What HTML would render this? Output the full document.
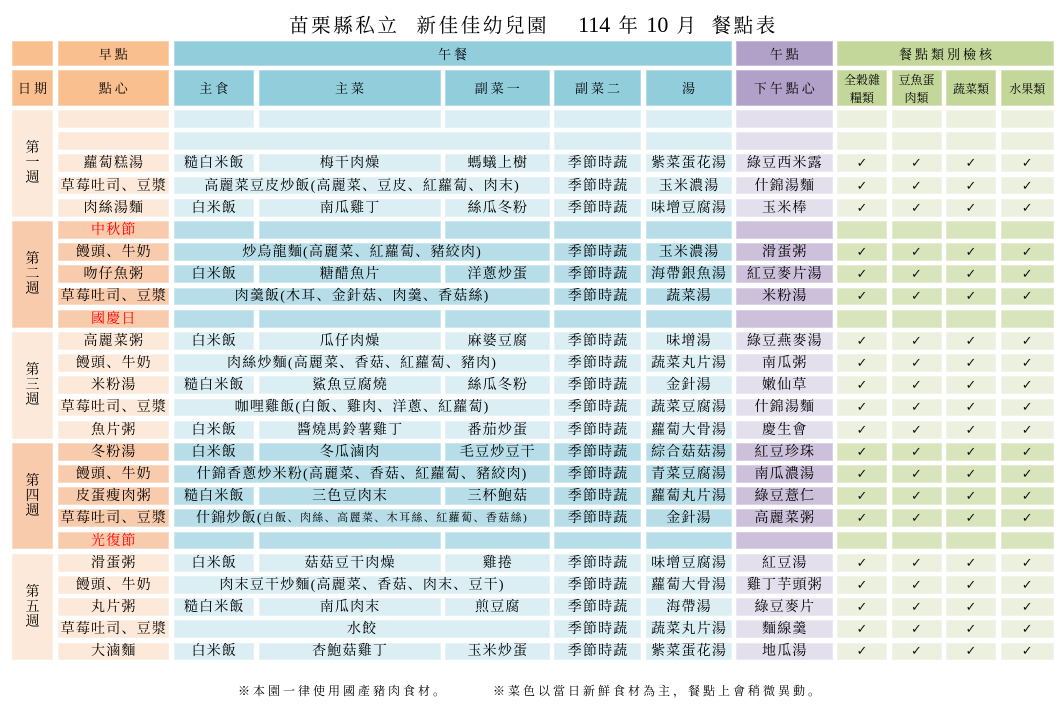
<!DOCTYPE html>
<html><head><meta charset="utf-8">
<style>
html,body{margin:0;padding:0;background:#fff;}
body{width:1063px;height:704px;position:relative;overflow:hidden;font-family:"Liberation Serif","Noto Serif CJK SC","Noto Sans CJK TC",serif;color:#000;}
.title{position:absolute;left:289px;top:14px;line-height:22px;font-size:19.5px;letter-spacing:2.6px;white-space:nowrap;color:#000;}
.title .n{font-size:22px;letter-spacing:0;font-family:"Liberation Serif",serif;}
.foot{position:absolute;top:684px;line-height:14px;font-size:12px;letter-spacing:3px;white-space:nowrap;color:#000;}
.grid{position:absolute;left:12px;top:41px;display:grid;
grid-template-columns:41px 111.5px 80.5px 182px 104.5px 87px 86px 96.5px 50px 50px 50px 53.5px;
column-gap:4.5px;grid-template-rows:25px 35.3px repeat(25,17.8px);row-gap:4.4px;}
.c{display:flex;align-items:center;justify-content:center;font-size:14px;letter-spacing:1.2px;padding-left:1.2px;padding-top:1px;box-sizing:border-box;white-space:nowrap;line-height:15px;text-align:center;box-shadow:inset 0 0 0 1px rgba(255,255,255,0.3);}
.h{font-size:13px;letter-spacing:3px;padding-left:3px;}
.s{font-size:12px;letter-spacing:0;padding-left:0;line-height:18px;}
.wk{line-height:15px;font-size:14px;letter-spacing:0;padding-left:0;}
.k{font-family:"DejaVu Sans",sans-serif;font-size:13px;letter-spacing:0;padding-left:0;color:#111;}
.r{color:#f00;}
.sm{font-size:11px;letter-spacing:1.4px;}
.o0{background:#FABF8F}.b0{background:#92CDDC}.p0{background:#B1A0C7}.g0{background:#C4D79B}
.o2{background:#F8CBAD}.b2{background:#B7DEE8}.p2{background:#CCC0DA}.g2{background:#D8E4BC}
.o1{background:#FDE9D9}.b1{background:#DAEEF3}.p1{background:#E4DFEC}.g1{background:#EBF1DE}
.m3{grid-column:span 3}
</style></head><body>
<div class="title">苗栗縣私立<span style="margin-left:17px">新佳佳幼兒園</span><span class="n" style="margin-left:29px">114</span><span style="margin-left:8px">年</span><span class="n" style="margin-left:6px">10</span><span style="margin-left:8px">月</span><span style="margin-left:13px">餐點表</span></div>

<div class="grid">
<!-- header 1 -->
<div class="c o0"></div>
<div class="c o0 h">早點</div>
<div class="c b0 h" style="grid-column:span 5">午餐</div>
<div class="c p0 h">午點</div>
<div class="c g0 h" style="grid-column:span 4">餐點類別檢核</div>
<!-- header 2 -->
<div class="c o0 h">日期</div>
<div class="c o0 h">點心</div>
<div class="c b0 h">主食</div>
<div class="c b0 h">主菜</div>
<div class="c b0 h">副菜一</div>
<div class="c b0 h">副菜二</div>
<div class="c b0 h">湯</div>
<div class="c p0 h">下午點心</div>
<div class="c g0 s">全穀雜<br>糧類</div>
<div class="c g0 s">豆魚蛋<br>肉類</div>
<div class="c g0 s">蔬菜類</div>
<div class="c g0 s">水果類</div>

<!-- week 1 -->
<div class="c o1 wk" style="grid-row:span 5">第<br>一<br>週</div>
<div class="c o1"></div><div class="c b1"></div><div class="c b1"></div><div class="c b1"></div><div class="c b1"></div><div class="c b1"></div><div class="c p1"></div><div class="c g1"></div><div class="c g1"></div><div class="c g1"></div><div class="c g1"></div>
<div class="c o1"></div><div class="c b1 m3"></div><div class="c b1"></div><div class="c b1"></div><div class="c p1"></div><div class="c g1"></div><div class="c g1"></div><div class="c g1"></div><div class="c g1"></div>
<div class="c o1">蘿蔔糕湯</div><div class="c b1">糙白米飯</div><div class="c b1">梅干肉燥</div><div class="c b1">螞蟻上樹</div><div class="c b1">季節時蔬</div><div class="c b1">紫菜蛋花湯</div><div class="c p1">綠豆西米露</div><div class="c g1 k">✓</div><div class="c g1 k">✓</div><div class="c g1 k">✓</div><div class="c g1 k">✓</div>
<div class="c o1">草莓吐司、豆漿</div><div class="c b1 m3">高麗菜豆皮炒飯(高麗菜、豆皮、紅蘿蔔、肉末)</div><div class="c b1">季節時蔬</div><div class="c b1">玉米濃湯</div><div class="c p1">什錦湯麵</div><div class="c g1 k">✓</div><div class="c g1 k">✓</div><div class="c g1 k">✓</div><div class="c g1 k">✓</div>
<div class="c o1">肉絲湯麵</div><div class="c b1">白米飯</div><div class="c b1">南瓜雞丁</div><div class="c b1">絲瓜冬粉</div><div class="c b1">季節時蔬</div><div class="c b1">味增豆腐湯</div><div class="c p1">玉米棒</div><div class="c g1 k">✓</div><div class="c g1 k">✓</div><div class="c g1 k">✓</div><div class="c g1 k">✓</div>

<!-- week 2 -->
<div class="c o2 wk" style="grid-row:span 5">第<br>二<br>週</div>
<div class="c o2 r">中秋節</div><div class="c b2"></div><div class="c b2"></div><div class="c b2"></div><div class="c b2"></div><div class="c b2"></div><div class="c p2"></div><div class="c g2"></div><div class="c g2"></div><div class="c g2"></div><div class="c g2"></div>
<div class="c o2">饅頭、牛奶</div><div class="c b2 m3">炒烏龍麵(高麗菜、紅蘿蔔、豬絞肉)</div><div class="c b2">季節時蔬</div><div class="c b2">玉米濃湯</div><div class="c p2">滑蛋粥</div><div class="c g2 k">✓</div><div class="c g2 k">✓</div><div class="c g2 k">✓</div><div class="c g2 k">✓</div>
<div class="c o2">吻仔魚粥</div><div class="c b2">白米飯</div><div class="c b2">糖醋魚片</div><div class="c b2">洋蔥炒蛋</div><div class="c b2">季節時蔬</div><div class="c b2">海帶銀魚湯</div><div class="c p2">紅豆麥片湯</div><div class="c g2 k">✓</div><div class="c g2 k">✓</div><div class="c g2 k">✓</div><div class="c g2 k">✓</div>
<div class="c o2">草莓吐司、豆漿</div><div class="c b2 m3">肉羹飯(木耳、金針菇、肉羹、香菇絲)</div><div class="c b2">季節時蔬</div><div class="c b2">蔬菜湯</div><div class="c p2">米粉湯</div><div class="c g2 k">✓</div><div class="c g2 k">✓</div><div class="c g2 k">✓</div><div class="c g2 k">✓</div>
<div class="c o2 r">國慶日</div><div class="c b2"></div><div class="c b2"></div><div class="c b2"></div><div class="c b2"></div><div class="c b2"></div><div class="c p2"></div><div class="c g2"></div><div class="c g2"></div><div class="c g2"></div><div class="c g2"></div>

<!-- week 3 -->
<div class="c o1 wk" style="grid-row:span 5">第<br>三<br>週</div>
<div class="c o1">高麗菜粥</div><div class="c b1">白米飯</div><div class="c b1">瓜仔肉燥</div><div class="c b1">麻婆豆腐</div><div class="c b1">季節時蔬</div><div class="c b1">味增湯</div><div class="c p1">綠豆燕麥湯</div><div class="c g1 k">✓</div><div class="c g1 k">✓</div><div class="c g1 k">✓</div><div class="c g1 k">✓</div>
<div class="c o1">饅頭、牛奶</div><div class="c b1 m3">肉絲炒麵(高麗菜、香菇、紅蘿蔔、豬肉)</div><div class="c b1">季節時蔬</div><div class="c b1">蔬菜丸片湯</div><div class="c p1">南瓜粥</div><div class="c g1 k">✓</div><div class="c g1 k">✓</div><div class="c g1 k">✓</div><div class="c g1 k">✓</div>
<div class="c o1">米粉湯</div><div class="c b1">糙白米飯</div><div class="c b1">鯊魚豆腐燒</div><div class="c b1">絲瓜冬粉</div><div class="c b1">季節時蔬</div><div class="c b1">金針湯</div><div class="c p1">嫩仙草</div><div class="c g1 k">✓</div><div class="c g1 k">✓</div><div class="c g1 k">✓</div><div class="c g1 k">✓</div>
<div class="c o1">草莓吐司、豆漿</div><div class="c b1 m3">咖哩雞飯(白飯、雞肉、洋蔥、紅蘿蔔)</div><div class="c b1">季節時蔬</div><div class="c b1">蔬菜豆腐湯</div><div class="c p1">什錦湯麵</div><div class="c g1 k">✓</div><div class="c g1 k">✓</div><div class="c g1 k">✓</div><div class="c g1 k">✓</div>
<div class="c o1">魚片粥</div><div class="c b1">白米飯</div><div class="c b1">醬燒馬鈴薯雞丁</div><div class="c b1">番茄炒蛋</div><div class="c b1">季節時蔬</div><div class="c b1">蘿蔔大骨湯</div><div class="c p1">慶生會</div><div class="c g1 k">✓</div><div class="c g1 k">✓</div><div class="c g1 k">✓</div><div class="c g1 k">✓</div>

<!-- week 4 -->
<div class="c o2 wk" style="grid-row:span 5">第<br>四<br>週</div>
<div class="c o2">冬粉湯</div><div class="c b2">白米飯</div><div class="c b2">冬瓜滷肉</div><div class="c b2">毛豆炒豆干</div><div class="c b2">季節時蔬</div><div class="c b2">綜合菇菇湯</div><div class="c p2">紅豆珍珠</div><div class="c g2 k">✓</div><div class="c g2 k">✓</div><div class="c g2 k">✓</div><div class="c g2 k">✓</div>
<div class="c o2">饅頭、牛奶</div><div class="c b2 m3">什錦香蔥炒米粉(高麗菜、香菇、紅蘿蔔、豬絞肉)</div><div class="c b2">季節時蔬</div><div class="c b2">青菜豆腐湯</div><div class="c p2">南瓜濃湯</div><div class="c g2 k">✓</div><div class="c g2 k">✓</div><div class="c g2 k">✓</div><div class="c g2 k">✓</div>
<div class="c o2">皮蛋瘦肉粥</div><div class="c b2">糙白米飯</div><div class="c b2">三色豆肉末</div><div class="c b2">三杯鮑菇</div><div class="c b2">季節時蔬</div><div class="c b2">蘿蔔丸片湯</div><div class="c p2">綠豆薏仁</div><div class="c g2 k">✓</div><div class="c g2 k">✓</div><div class="c g2 k">✓</div><div class="c g2 k">✓</div>
<div class="c o2">草莓吐司、豆漿</div><div class="c b2 m3">什錦炒飯(<span class="sm">白飯、肉絲、高麗菜、木耳絲、紅蘿蔔、香菇絲)</span></div><div class="c b2">季節時蔬</div><div class="c b2">金針湯</div><div class="c p2">高麗菜粥</div><div class="c g2 k">✓</div><div class="c g2 k">✓</div><div class="c g2 k">✓</div><div class="c g2 k">✓</div>
<div class="c o2 r">光復節</div><div class="c b2"></div><div class="c b2"></div><div class="c b2"></div><div class="c b2"></div><div class="c b2"></div><div class="c p2"></div><div class="c g2"></div><div class="c g2"></div><div class="c g2"></div><div class="c g2"></div>

<!-- week 5 -->
<div class="c o1 wk" style="grid-row:span 5">第<br>五<br>週</div>
<div class="c o1">滑蛋粥</div><div class="c b1">白米飯</div><div class="c b1">菇菇豆干肉燥</div><div class="c b1">雞捲</div><div class="c b1">季節時蔬</div><div class="c b1">味增豆腐湯</div><div class="c p1">紅豆湯</div><div class="c g1 k">✓</div><div class="c g1 k">✓</div><div class="c g1 k">✓</div><div class="c g1 k">✓</div>
<div class="c o1">饅頭、牛奶</div><div class="c b1 m3">肉末豆干炒麵(高麗菜、香菇、肉末、豆干)</div><div class="c b1">季節時蔬</div><div class="c b1">蘿蔔大骨湯</div><div class="c p1">雞丁芋頭粥</div><div class="c g1 k">✓</div><div class="c g1 k">✓</div><div class="c g1 k">✓</div><div class="c g1 k">✓</div>
<div class="c o1">丸片粥</div><div class="c b1">糙白米飯</div><div class="c b1">南瓜肉末</div><div class="c b1">煎豆腐</div><div class="c b1">季節時蔬</div><div class="c b1">海帶湯</div><div class="c p1">綠豆麥片</div><div class="c g1 k">✓</div><div class="c g1 k">✓</div><div class="c g1 k">✓</div><div class="c g1 k">✓</div>
<div class="c o1">草莓吐司、豆漿</div><div class="c b1 m3">水餃</div><div class="c b1">季節時蔬</div><div class="c b1">蔬菜丸片湯</div><div class="c p1">麵線羹</div><div class="c g1 k">✓</div><div class="c g1 k">✓</div><div class="c g1 k">✓</div><div class="c g1 k">✓</div>
<div class="c o1">大滷麵</div><div class="c b1">白米飯</div><div class="c b1">杏鮑菇雞丁</div><div class="c b1">玉米炒蛋</div><div class="c b1">季節時蔬</div><div class="c b1">紫菜蛋花湯</div><div class="c p1">地瓜湯</div><div class="c g1 k">✓</div><div class="c g1 k">✓</div><div class="c g1 k">✓</div><div class="c g1 k">✓</div>
</div>

<div class="foot" style="left:238px">※本園一律使用國產豬肉食材。</div>
<div class="foot" style="left:493px">※菜色以當日新鮮食材為主，餐點上會稍微異動。</div>
</body></html>
